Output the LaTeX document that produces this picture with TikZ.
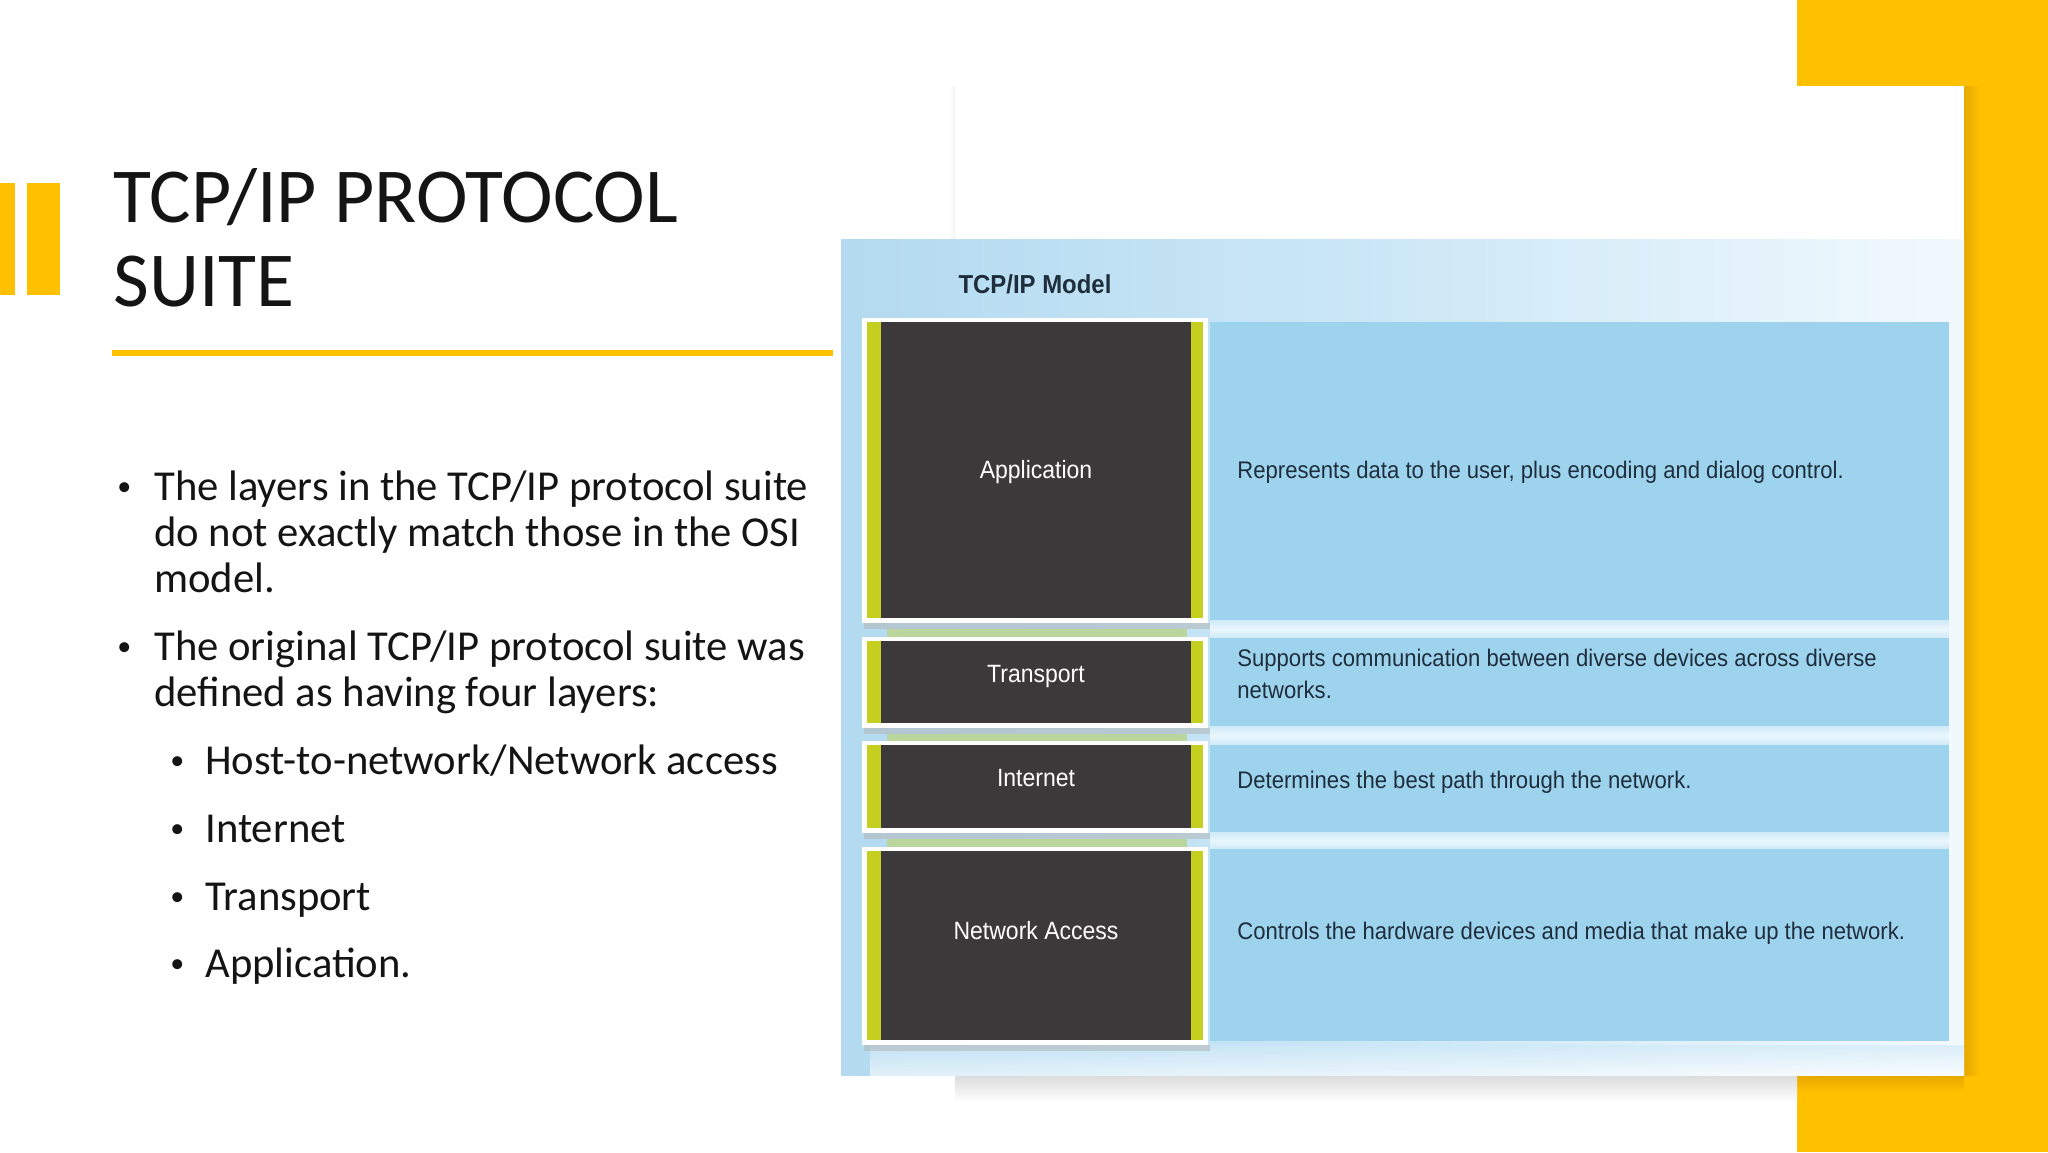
\documentclass[tikz,border=0pt]{standalone}
\usepackage{fontspec}
\setmainfont{Carlito}
\newfontfamily\descfont[FakeStretch=0.92]{Liberation Sans}
\definecolor{yellowC}{HTML}{FFC000}
\definecolor{yellowD}{HTML}{E6A800}
\definecolor{limeC}{HTML}{C4CF1F}
\definecolor{darkC}{HTML}{3C393A}
\definecolor{descC}{HTML}{9DD3ED}
\definecolor{textC}{HTML}{1F2E3D}
\definecolor{bgL}{HTML}{B3DAF0}
\definecolor{bgM}{HTML}{CDE8F7}
\definecolor{bgR}{HTML}{F2F9FD}
\definecolor{gapC}{HTML}{CFEAF8}
\definecolor{gapM}{HTML}{EAF6FC}
\tikzset{
  txt/.style={inner sep=0pt, anchor=base west, text=black!92},
  body/.style={txt, font=\fontsize{21.33pt}{25.6pt}\selectfont},
  bul/.style={txt, font=\fontsize{14pt}{16pt}\selectfont},
  ttl/.style={txt, font=\fontsize{38.9pt}{46pt}\selectfont},
  desc/.style={inner sep=0pt, anchor=base west, text=textC, font=\descfont\fontsize{12pt}{16pt}\selectfont},
  lbl/.style={inner sep=0pt, anchor=base, text=white, font=\descfont\fontsize{12.5pt}{16pt}\selectfont},
}
\begin{document}
\begin{tikzpicture}[x=0.5pt,y=-0.5pt]
\useasboundingbox (0,0) rectangle (2048,1152);
\fill[white] (0,0) rectangle (2048,1152);
% yellow decoration right
\fill[yellowC] (1797,0) rectangle (2048,1152);
% panel shadows
\shade[left color=yellowD, right color=yellowC] (1964,86) rectangle (1980,1075);
\shade[top color=yellowD, bottom color=yellowC] (1797,1075) rectangle (1964,1092);
\fill[white] (955,86) rectangle (1964,1075);
\shade[left color=white, right color=black!5] (949,86) rectangle (955,239);
% left bars
\fill[yellowC] (0,183) rectangle (15,295);
\fill[yellowC] (27,183) rectangle (60,295);
% title
\node[ttl] (t1) at (113,222) {TCP/IP PROTOCOL};
\node[ttl] (t2) at (113,306) {SUITE};
\draw[yellowC, line width=3pt] (112,353) -- (833,353);
% bullets
\node[bul] (b1) at (117,495) {•};
\node[body] (l1) at (154,500) {The layers in the TCP/IP protocol suite};
\node[body] (l2) at (154,546) {do not exactly match those in the OSI};
\node[body] (l3) at (154,592) {model.};
\node[bul] (b2) at (117,655) {•};
\node[body] (l4) at (154,660) {The original TCP/IP protocol suite was};
\node[body] (l5) at (154,706) {defined as having four layers:};
\node[bul] (s1) at (170,769) {•};
\node[body] (s1t) at (205,774) {Host-to-network/Network access};
\node[bul] (s2) at (170,837) {•};
\node[body] (s2t) at (205,842) {Internet};
\node[bul] (s3) at (170,905) {•};
\node[body] (s3t) at (205,910) {Transport};
\node[bul] (s4) at (170,972) {•};
\node[body] (s4t) at (205,977) {Application.};
% image shadow
\shade[top color=black!14, bottom color=white] (955,1075) rectangle (1797,1102);
% image background
\shade[left color=bgL, right color=bgR, middle color=bgM] (841,239) rectangle (1964,1075);
\shade[top color=bgM, bottom color=white, opacity=0.6] (870,1045) rectangle (1964,1075);
\node[inner sep=0pt, anchor=base, text=textC, font=\descfont\bfseries\fontsize{13pt}{16pt}\selectfont] (hdr) at (1035,293) {TCP/IP Model};
% description boxes and gaps
\foreach \ya/\yb in {620/638, 726/745, 832/849}{
  \shade[top color=gapC, bottom color=gapC, middle color=gapM] (1210,\ya) rectangle (1949,\yb);
}
\fill[descC] (1210,322) rectangle (1949,620);
\fill[descC] (1210,638) rectangle (1949,726);
\fill[descC] (1210,745) rectangle (1949,832);
\fill[descC] (1210,849) rectangle (1949,1041);
% dark layer boxes
\foreach \ya/\yb in {318/623, 637/728, 741/833, 847/1045}{
  \fill[black!30, opacity=0.5] (864,\yb) rectangle (1210,\yb+6);
  \fill[white] (862,\ya) rectangle (1208,\yb);
  \fill[limeC] (867,\ya+4) rectangle (1203,\yb-5);
  \fill[darkC] (881,\ya+4) rectangle (1191,\yb-5);
}
\foreach \ya/\yb in {629/637, 734/741, 839/847}{
  \fill[limeC!40!bgL] (887,\ya) rectangle (1187,\yb);
}
% labels
\node[lbl] (la) at (1036,478) {Application};
\node[lbl] (lt) at (1036,682) {Transport};
\node[lbl] (li) at (1036,786) {Internet};
\node[lbl] (ln) at (1036,939) {Network Access};
% descriptions
\node[desc] (da) at (1237,478) {Represents data to the user, plus encoding and dialog control.};
\node[desc] (dt1) at (1237,666) {Supports communication between diverse devices across diverse};
\node[desc] (dt2) at (1237,698) {networks.};
\node[desc] (di) at (1237,788) {Determines the best path through the network.};
\node[desc] (dn) at (1237,939) {Controls the hardware devices and media that make up the network.};
\end{tikzpicture}
\end{document}
